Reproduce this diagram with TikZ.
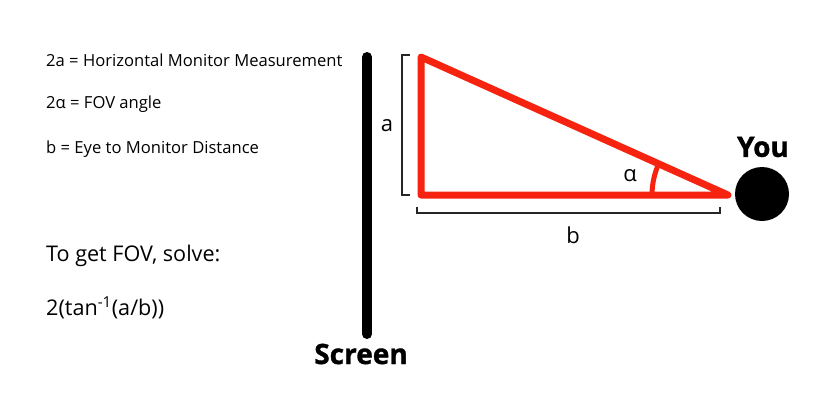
\documentclass[tikz,border=0pt]{standalone}
\usepackage{fontspec}
\setmainfont{Open Sans}
\newfontfamily\heavyfont{Open Sans}[BoldFeatures={FakeBold=1.2}]
\definecolor{tri}{RGB}{245,35,15}
\begin{document}
\begin{tikzpicture}[x=1pt,y=-1pt,
  lbl/.style={inner sep=0pt,anchor=west,font=\fontsize{16.6}{19}\selectfont},
  big/.style={inner sep=0pt,anchor=west,font=\fontsize{21.6}{24}\selectfont},
  heavy/.style={inner sep=0pt,font=\fontsize{28}{31}\heavyfont\bfseries},
  side/.style={inner sep=0pt,font=\fontsize{22}{25}\selectfont},
  redline/.style={draw=tri,line width=7pt,line join=round,line cap=round},
  brk/.style={draw=black!85,line width=1.6pt}]
\useasboundingbox (0,0) rectangle (825,413);
% left texts
\node[lbl] (t1) at (46,60) {2a = Horizontal Monitor Measurement};
\node[lbl] (t2) at (46,104) {2α = FOV angle};
\node[lbl] (t3) at (46,149) {b = Eye to Monitor Distance};
\node[big] (t4) at (46,256) {To get FOV, solve:};
\node[big] (t5) at (46,308) {2(tan\textsuperscript{-1}(a/b))};
% screen
\coordinate (s1) at (367,57);
\coordinate (s2) at (367,334);
\draw[line width=10pt,line cap=round] (s1) -- (s2);
\node[heavy] (scr) at (361,354) {Screen};
% triangle
\coordinate (A) at (421,57);
\coordinate (B) at (421,195);
\coordinate (C) at (728,195);
\draw[redline] (A) -- (B) -- (C) -- cycle;
\draw[draw=tri,line width=5pt] ([xshift=-76pt]C) arc[start angle=180,end angle=155.8,radius=76pt];
\node[side] (alpha) at (630,176) {α};
% brackets
\coordinate (la) at (410,55);
\coordinate (lb) at (410,195);
\draw[brk] (la) -- ++(-8,0) |- (lb);
\node[side] (a) at (387,126) {a};
\coordinate (ba) at (417,207);
\coordinate (bb) at (720,207);
\draw[brk] (ba) -- ++(0,6) -| (bb);
\node[side] (b) at (573,235) {b};
% you
\node[circle,fill=black,minimum size=54pt,inner sep=0pt] (eye) at (762,194) {};
\node[heavy] (you) at (763,147) {You};
\end{tikzpicture}
\end{document}
